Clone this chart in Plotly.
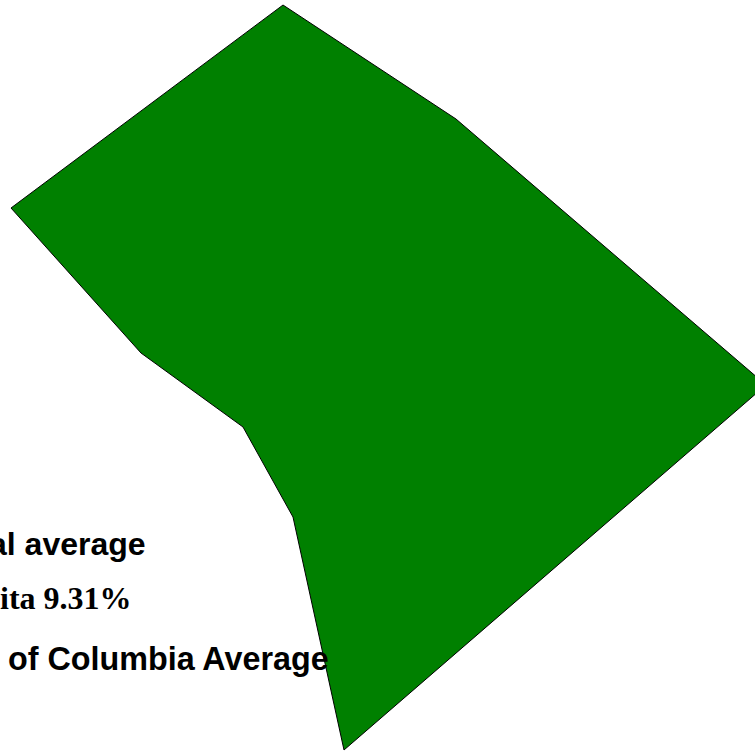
import plotly.graph_objects as go

# Outline of the District of Columbia, in picture-read map units
region_x = [283, 456, 766, 344, 293, 243, 141, 11, 283]
region_y = [5, 119, 385, 750, 517, 427, 353, 208, 5]
region_color = "#008000"
line_color = "#000000"

label_texts = ["<b>al average</b>", "<b>ita 9.31%</b>", "<b>of Columbia Average</b>"]
label_right = [147, 133, 330]
label_y = [544, 598, 659]
label_fonts = ["Liberation Sans", "Liberation Serif", "Liberation Sans"]
label_sizes = [32, 32, 32.3]

fig = go.Figure()
fig.add_trace(go.Scatter(x=region_x, y=region_y, mode="lines", fill="toself",
                         fillcolor=region_color, line=dict(color=line_color, width=1),
                         hoverinfo="skip", showlegend=False))
for t, x, y, f, s in zip(label_texts, label_right, label_y, label_fonts, label_sizes):
    fig.add_annotation(x=x, y=y, text=t, showarrow=False, xanchor="right", yanchor="middle",
                       borderpad=0, font=dict(family=f, size=s, color="#000000"))
fig.update_layout(width=755, height=751, margin=dict(l=0, r=0, t=0, b=0),
                  paper_bgcolor="white", plot_bgcolor="white", showlegend=False)
fig.update_xaxes(range=[0, 755], visible=False, fixedrange=True)
fig.update_yaxes(range=[751, 0], visible=False, fixedrange=True)
fig.write_html("out.html", config={"displayModeBar": False},
               post_script="document.body.style.margin='0';document.body.style.overflow='hidden';")
